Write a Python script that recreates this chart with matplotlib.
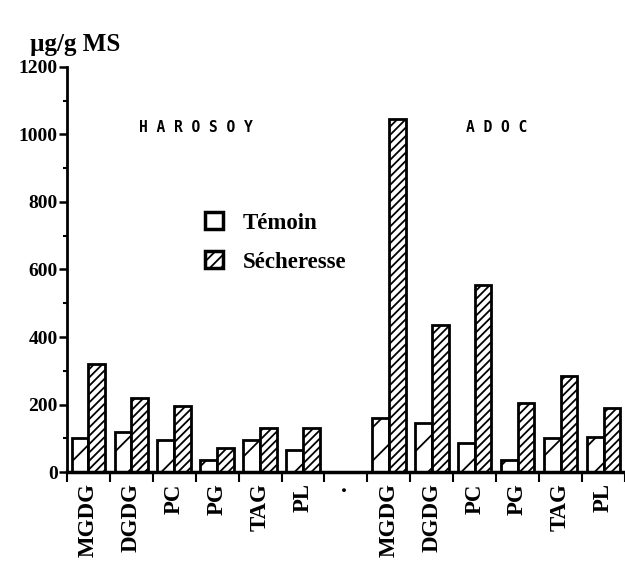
import matplotlib
matplotlib.use("Agg")
import matplotlib.pyplot as plt
from matplotlib.patches import Patch
from matplotlib.ticker import MultipleLocator, FixedLocator
import numpy as np

# données (µg/g MS)
lipides = ["MGDG", "DGDG", "PC", "PG", "TAG", "PL"]
harosoy_temoin = [100, 120, 95, 35, 95, 65]
harosoy_secheresse = [320, 220, 195, 70, 130, 130]
adoc_temoin = [160, 145, 85, 35, 100, 105]
adoc_secheresse = [1045, 435, 555, 205, 285, 190]
groupes = ["H A R O S O Y", "A D O C"]

plt.rcParams["hatch.linewidth"] = 1.3
serif = "Liberation Serif"

fig = plt.figure(figsize=(6.25, 5.62), dpi=100)
ax = fig.add_axes([0.107, 0.160, 0.893, 0.721])

n = len(lipides)
x_h = np.arange(n)
x_a = np.arange(n) + n + 1
largeur = 0.39

for xs, tem, sec in [(x_h, harosoy_temoin, harosoy_secheresse),
                     (x_a, adoc_temoin, adoc_secheresse)]:
    ax.bar(xs - largeur / 2, tem, largeur, facecolor="white",
           edgecolor="black", linewidth=2, hatch="/")
    ax.bar(xs + largeur / 2, sec, largeur, facecolor="white",
           edgecolor="black", linewidth=2, hatch="////")

ax.set_xlim(-0.5, 2 * n + 0.5)
ax.set_ylim(0, 1200)

# axe x : étiquettes au centre, tirets entre les catégories
centres = list(x_h) + [n] + list(x_a)
ax.xaxis.set_major_locator(FixedLocator(centres))
ax.set_xticklabels(lipides + ["·"] + lipides, rotation=90,
                   fontfamily=serif, fontweight="bold", fontsize=16.5)
ax.xaxis.set_minor_locator(FixedLocator(np.arange(-0.5, 2 * n + 1, 1)))
ax.tick_params(axis="x", which="major", length=0, pad=8)
ax.tick_params(axis="x", which="minor", length=7, width=1.5, direction="out")

ax.yaxis.set_major_locator(MultipleLocator(200))
ax.yaxis.set_minor_locator(MultipleLocator(100))
ax.tick_params(axis="y", which="major", length=6, width=1.8, pad=0.5)
ax.tick_params(axis="y", which="minor", length=3, width=1.5)
for lab in ax.get_yticklabels():
    lab.set_fontfamily(serif)
    lab.set_fontweight("bold")
    lab.set_fontsize(14)

for s in ["top", "right"]:
    ax.spines[s].set_visible(False)
ax.spines["left"].set_linewidth(2)
ax.spines["bottom"].set_linewidth(2.5)

# noms des variétés
ax.text((n - 1) / 2, 1020, groupes[0], ha="center", va="center",
        fontfamily="DejaVu Sans Mono", fontweight="bold", fontsize=10.5)
ax.text(x_a.mean(), 1020, groupes[1], ha="center", va="center",
        fontfamily="DejaVu Sans Mono", fontweight="bold", fontsize=10.5)

fig.text(30 / 625, 1 - 45 / 562, "µg/g MS", ha="left", va="center",
         fontfamily=serif, fontweight="bold", fontsize=18)

poignees = [Patch(facecolor="white", edgecolor="black", linewidth=2.5),
            Patch(facecolor="white", edgecolor="black", linewidth=2.5, hatch="///")]
fig.legend(poignees, ["Témoin", "Sécheresse"], loc="upper left",
           bbox_to_anchor=(205 / 625, 1 - 212 / 562), frameon=False,
           borderpad=0, borderaxespad=0, handlelength=0.78, handleheight=0.78,
           handletextpad=0.87, labelspacing=0.77,
           prop={"family": serif, "weight": "bold", "size": 16.5})

fig.savefig("out.png", dpi=100)
